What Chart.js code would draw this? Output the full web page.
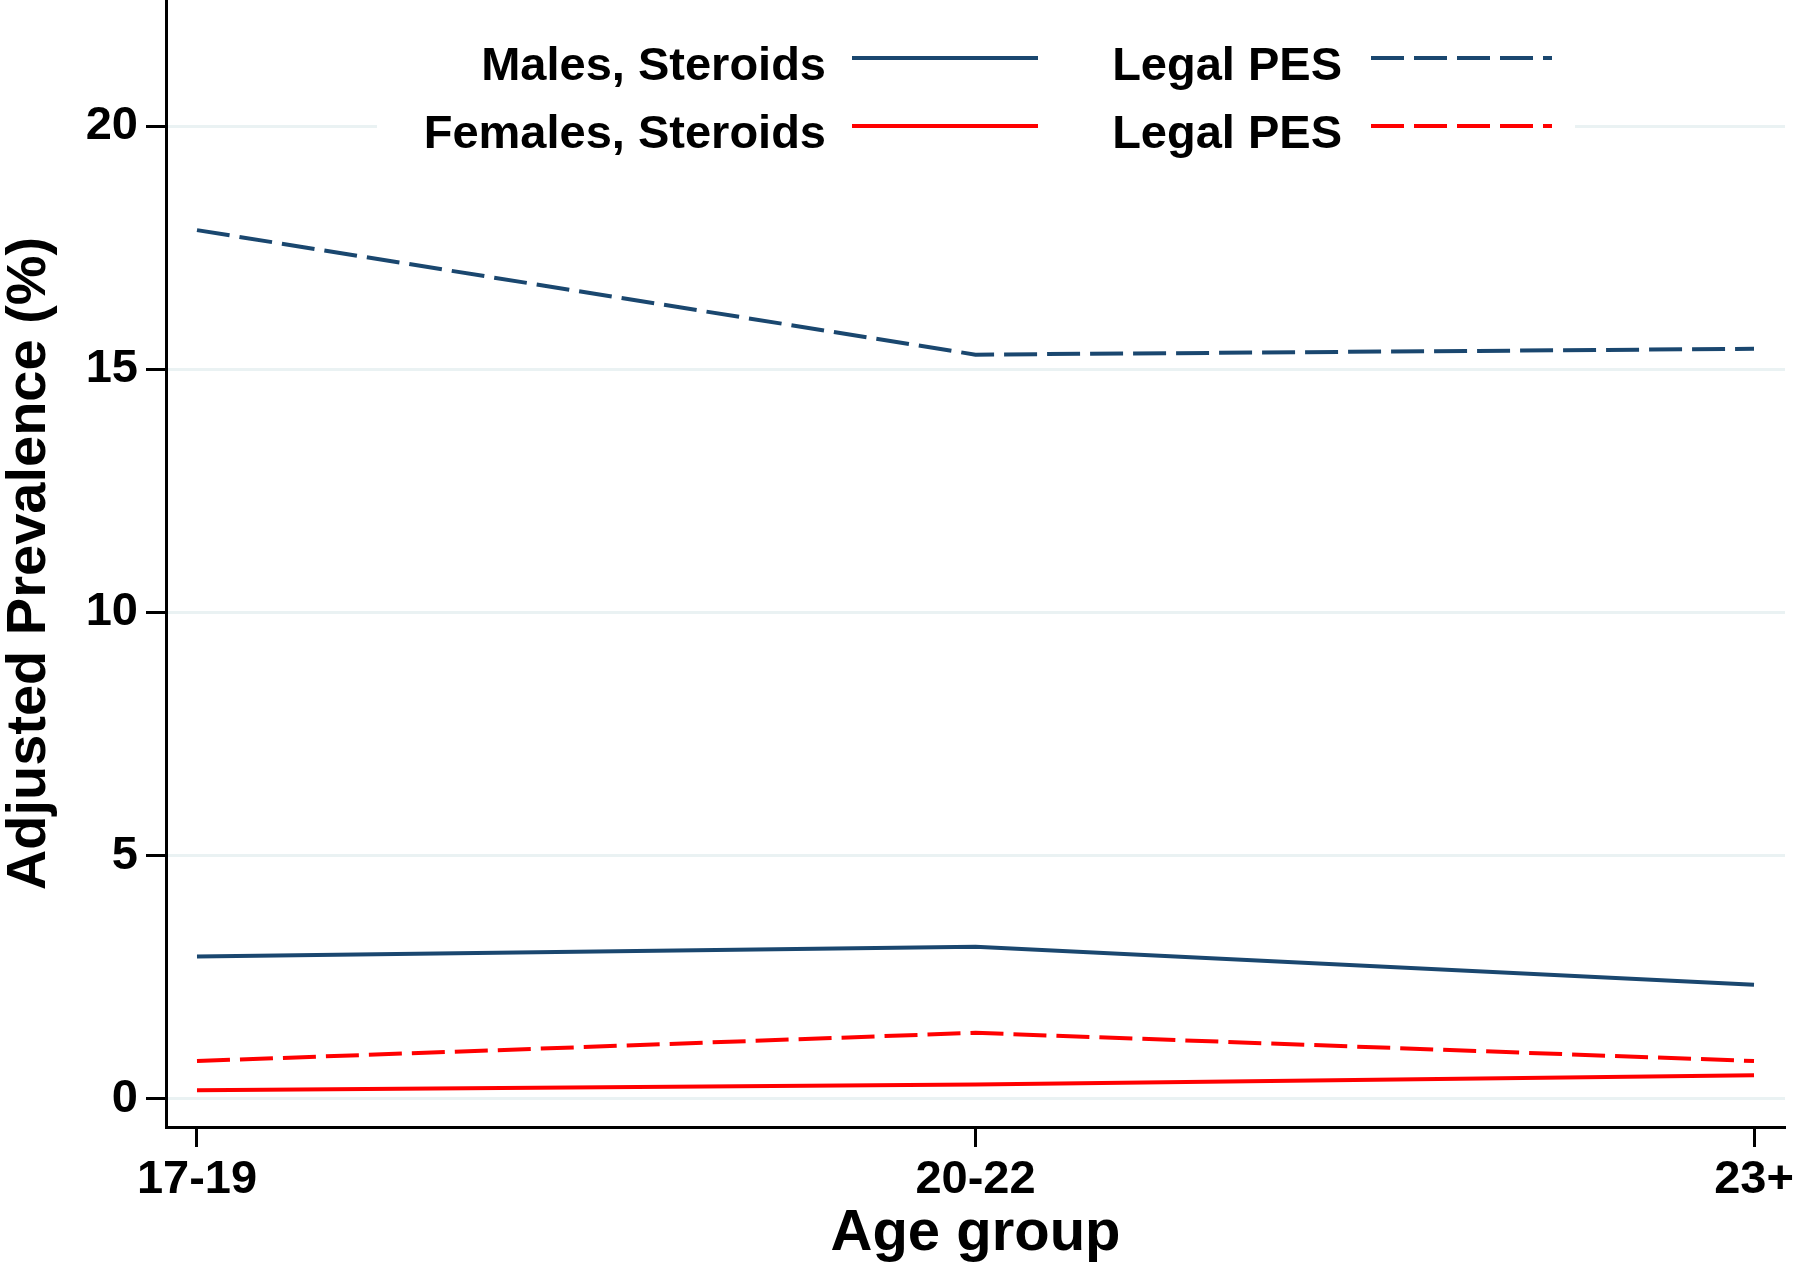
<!DOCTYPE html>
<html>
<head>
<meta charset="utf-8">
<script src="https://cdn.jsdelivr.net/npm/chart.js@4.4.1/dist/chart.umd.min.js"></script>
<style>
  html, body { margin: 0; padding: 0; background: #fff; }
  canvas { display: block; }
</style>
</head>
<body>
<canvas id="prevChart" width="1800" height="1270"></canvas>
<script>
// values
const ageGroups = ['17-19', '20-22', '23+'];
const yTicks = [0, 5, 10, 15, 20];
const maleSteroids = [2.93, 3.13, 2.35];
const maleLegalPES = [17.86, 15.30, 15.42];
const femaleSteroids = [0.18, 0.30, 0.49];
const femaleLegalPES = [0.78, 1.36, 0.78];
const legendLabels = ['Males, Steroids', 'Legal PES', 'Females, Steroids', 'Legal PES'];

const navy = '#1a476f';
const red = '#ff0000';
const fontFamily = "'Liberation Sans', Arial, sans-serif";
const dash = [33, 10];

function toPoints(values) {
    return values.map((v, i) => ({ x: i, y: v }));
}

// legend sits inside the plot, 2 rows x 2 columns, text left of the sample
const insideLegend = {
    id: 'insideLegend',
    beforeDatasetsDraw(chart) {
        const ctx = chart.ctx;
        ctx.save();
        ctx.fillStyle = '#fff';
        ctx.fillRect(377, 20, 1198, 140);

        const textRight = [826, 1342];
        const sampleX = [852, 1371];
        const sampleLen = [186, 181];
        const rowY = [58, 126];

        ctx.font = 'bold 47px ' + fontFamily;
        ctx.textAlign = 'right';
        ctx.textBaseline = 'alphabetic';
        chart.data.datasets.forEach((ds, i) => {
            const row = Math.floor(i / 2);
            const col = i % 2;
            ctx.fillStyle = '#000';
            ctx.fillText(legendLabels[i], textRight[col], rowY[row] + 22);
            ctx.strokeStyle = ds.borderColor;
            ctx.lineWidth = 4;
            ctx.setLineDash(ds.borderDash || []);
            ctx.beginPath();
            ctx.moveTo(sampleX[col], rowY[row]);
            ctx.lineTo(sampleX[col] + sampleLen[col], rowY[row]);
            ctx.stroke();
        });
        ctx.restore();
    }
};

new Chart(document.getElementById('prevChart').getContext('2d'), {
    type: 'line',
    data: {
        datasets: [
            { label: 'Males, Steroids', data: toPoints(maleSteroids), borderColor: navy, borderWidth: 4 },
            { label: 'Males, Legal PES', data: toPoints(maleLegalPES), borderColor: navy, borderWidth: 4, borderDash: dash },
            { label: 'Females, Steroids', data: toPoints(femaleSteroids), borderColor: red, borderWidth: 4 },
            { label: 'Females, Legal PES', data: toPoints(femaleLegalPES), borderColor: red, borderWidth: 4, borderDash: dash }
        ]
    },
    options: {
        responsive: false,
        animation: false,
        devicePixelRatio: 1,
        elements: {
            point: { radius: 0 },
            line: { tension: 0, fill: false, borderCapStyle: 'butt' }
        },
        layout: { padding: { top: 0, right: 15, bottom: 0, left: 0 } },
        plugins: {
            legend: { display: false },
            tooltip: { enabled: false }
        },
        scales: {
            x: {
                type: 'linear',
                min: -0.0398,
                max: 2.0398,
                afterBuildTicks: s => { s.ticks = ageGroups.map((_, i) => ({ value: i })); },
                afterFit: s => { s.height = 143; s.paddingLeft = 0; s.paddingRight = 0; },
                border: { color: '#000', width: 3 },
                grid: { drawOnChartArea: false, tickColor: '#000', tickLength: 20, tickWidth: 3 },
                ticks: {
                    color: '#000',
                    padding: 5,
                    maxRotation: 0,
                    autoSkip: false,
                    font: { family: fontFamily, size: 47, weight: 'bold' },
                    callback: v => ageGroups[v] ?? ''
                },
                title: {
                    display: true,
                    text: 'Age group',
                    color: '#000',
                    font: { family: fontFamily, size: 58, weight: 'bold', lineHeight: 1 },
                    padding: { top: 0, bottom: 7 }
                }
            },
            y: {
                min: -0.576,
                max: 22.59,
                afterBuildTicks: s => { s.ticks = yTicks.map(v => ({ value: v })); },
                afterFit: s => { s.width = 166; s.paddingTop = 0; s.paddingBottom = 0; },
                border: { color: '#000', width: 3 },
                grid: { color: '#eaf2f3', lineWidth: 3, tickColor: '#000', tickLength: 20, tickWidth: 3 },
                ticks: {
                    color: '#000',
                    padding: 8,
                    font: { family: fontFamily, size: 47, weight: 'bold' }
                },
                title: {
                    display: true,
                    text: 'Adjusted Prevalence (%)',
                    color: '#000',
                    font: { family: fontFamily, size: 56, weight: 'bold', lineHeight: 1 },
                    padding: { top: 2, bottom: 0 }
                }
            }
        }
    },
    plugins: [insideLegend]
});
</script>
</body>
</html>
